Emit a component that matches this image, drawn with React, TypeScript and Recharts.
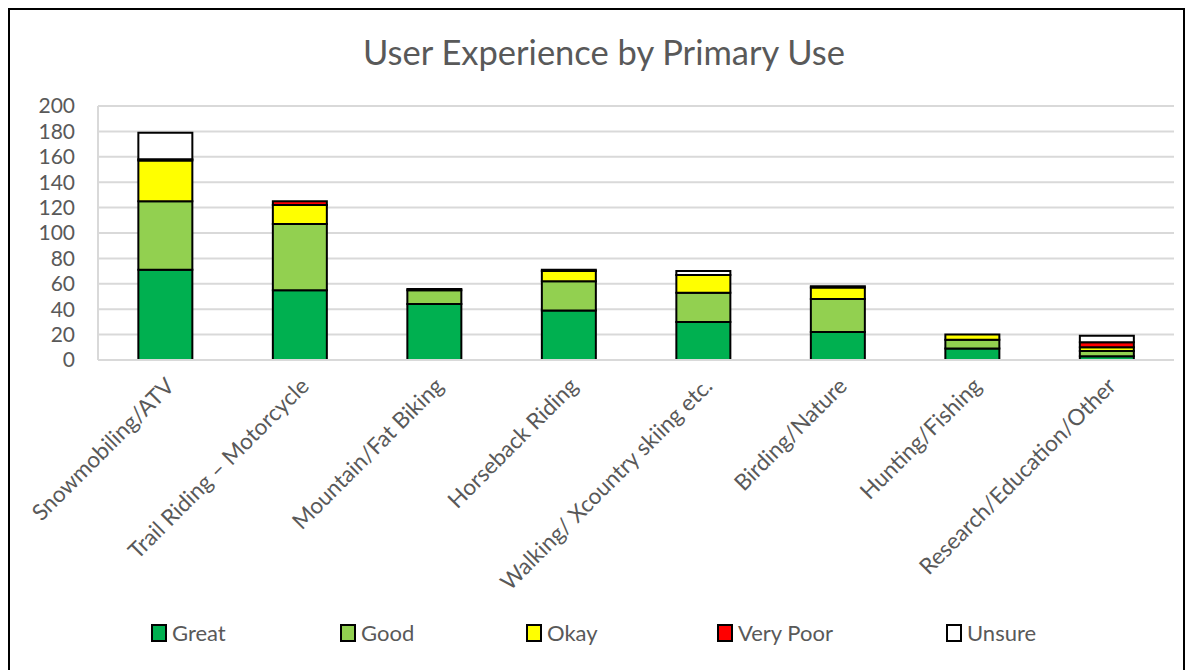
import { Bar, BarChart, CartesianGrid, XAxis, YAxis } from "recharts";

const categories = [
  "Snowmobiling/ATV",
  "Trail Riding – Motorcycle",
  "Mountain/Fat Biking",
  "Horseback Riding",
  "Walking/ Xcountry skiing etc.",
  "Birding/Nature",
  "Hunting/Fishing",
  "Research/Education/Other"
];
const great = [71, 55, 44, 39, 30, 22, 9, 3];
const good = [54, 52, 11, 23, 23, 26, 7, 4];
const okay = [32, 15, 1, 8, 14, 9, 4, 3];
const veryPoor = [1, 3, 0, 1, 0, 1, 0, 4];
const unsure = [21, 0, 0, 0, 3, 0, 0, 5];
const yTicks = [0, 20, 40, 60, 80, 100, 120, 140, 160, 180, 200];

const series = [
  { key: "great", name: "Great", color: "#00B050", legendX: 141 },
  { key: "good", name: "Good", color: "#92D050", legendX: 330 },
  { key: "okay", name: "Okay", color: "#FFFF00", legendX: 516 },
  { key: "veryPoor", name: "Very Poor", color: "#FF0000", legendX: 707 },
  { key: "unsure", name: "Unsure", color: "#FFFFFF", legendX: 936 }
];

const data = categories.map((label, i) => ({
  label,
  great: great[i],
  good: good[i],
  okay: okay[i],
  veryPoor: veryPoor[i],
  unsure: unsure[i]
}));

const font = "Lato, 'Open Sans', sans-serif";
const textColor = "#595959";

function RotatedTick({ x, y, payload }: any) {
  const ax = x + 5;
  const ay = y + 14;
  return (
    <text
      x={ax}
      y={ay}
      dy="0.35em"
      textAnchor="end"
      transform={`rotate(-45, ${ax}, ${ay})`}
      fontSize={22.5}
      fontFamily={font}
      fill={textColor}
    >
      {payload.value}
    </text>
  );
}

export default function App() {
  return (
    <div
      style={{
        position: "fixed",
        left: 8,
        top: 8,
        width: 1177,
        height: 690,
        border: "2px solid #000",
        boxSizing: "border-box",
        background: "#fff",
        fontFamily: font
      }}
    >
      <div
        style={{
          position: "absolute",
          left: 15,
          right: 0,
          top: 21,
          textAlign: "center",
          fontSize: 34.5,
          color: textColor
        }}
      >
        User Experience by Primary Use
      </div>
      <BarChart
        width={1173}
        height={660}
        data={data}
        margin={{ top: 96, right: 9, left: 0, bottom: 0 }}
        barCategoryGap="30%"
      >
        <CartesianGrid stroke="#d9d9d9" strokeWidth={2} vertical={false} />
        <XAxis
          dataKey="label"
          height={310}
          interval={0}
          tick={<RotatedTick />}
          tickLine={false}
          axisLine={{ stroke: "#d9d9d9", strokeWidth: 2 }}
        />
        <YAxis
          width={88}
          domain={[0, 200]}
          ticks={yTicks}
          interval={0}
          tickLine={false}
          tickSize={0}
          tickMargin={23}
          axisLine={{ stroke: "#d9d9d9", strokeWidth: 2 }}
          tick={{ fontSize: 21, fill: textColor, fontFamily: font }}
        />
        {series.map((s) => (
          <Bar
            key={s.key}
            dataKey={s.key}
            name={s.name}
            stackId="a"
            fill={s.color}
            stroke="#000"
            strokeWidth={2}
            isAnimationActive={false}
          />
        ))}
      </BarChart>
      {series.map((s) => (
        <div
          key={s.key}
          style={{
            position: "absolute",
            left: s.legendX,
            top: 609,
            display: "flex",
            alignItems: "center",
            fontSize: 22,
            color: textColor
          }}
        >
          <span
            style={{
              display: "inline-block",
              width: 12,
              height: 14,
              background: s.color,
              border: "2px solid #000",
              marginRight: 5
            }}
          />
          {s.name}
        </div>
      ))}
    </div>
  );
}
